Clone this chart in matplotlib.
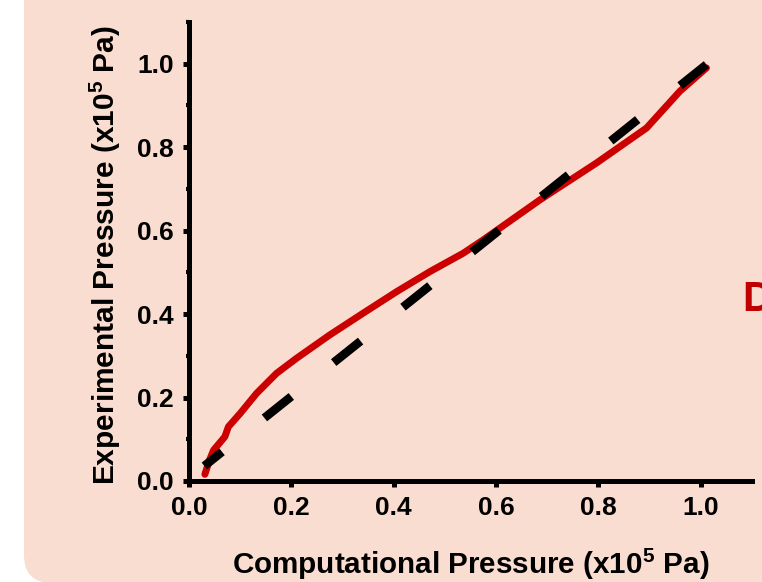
import matplotlib
matplotlib.use("Agg")
import matplotlib.pyplot as plt
from matplotlib.patches import FancyBboxPatch
from matplotlib.ticker import MultipleLocator

plt.rcParams['font.family'] = ['Liberation Sans', 'DejaVu Sans']
plt.rcParams['mathtext.fontset'] = 'custom'
plt.rcParams['mathtext.rm'] = 'Liberation Sans:bold'
plt.rcParams['mathtext.bf'] = 'Liberation Sans:bold'

# Data
comp_x = [0.031, 0.040, 0.048, 0.070, 0.077, 0.100, 0.132, 0.171, 0.210, 0.275,
          0.340, 0.406, 0.471, 0.536, 0.575, 0.686, 0.796, 0.894, 0.959, 1.011]
exp_y = [0.016, 0.050, 0.074, 0.106, 0.130, 0.162, 0.210, 0.258, 0.294, 0.350,
         0.402, 0.454, 0.502, 0.546, 0.578, 0.674, 0.762, 0.846, 0.934, 0.990]
ideal_x = [0.03, 1.011]
ideal_y = [0.036, 0.998]
xticks = [0.0, 0.2, 0.4, 0.6, 0.8, 1.0]
yticks = [0.0, 0.2, 0.4, 0.6, 0.8, 1.0]

fig = plt.figure(figsize=(7.62, 5.82), dpi=100)
fig.patch.set_facecolor('white')

bg = FancyBboxPatch((0.24, -0.01), 10, 10,
                    boxstyle="round,pad=0,rounding_size=0.28",
                    transform=fig.dpi_scale_trans, facecolor='#F8DDD0',
                    edgecolor='none', zorder=-5)
fig.patches.append(bg)

ax = fig.add_axes([189 / 762, 101 / 582, 563 / 762, 459 / 582])
ax.set_zorder(2)
ax.set_facecolor('none')
ax.plot(comp_x, exp_y, color='#CC0000', lw=5.0, solid_capstyle='round',
        solid_joinstyle='round', zorder=2)
ax.plot(ideal_x, ideal_y, color='black', lw=6.2, linestyle=(1.37, (4.0, 6.3)),
        dash_capstyle='butt', zorder=3)

ax.set_xlim(0, 1.1)
ax.set_ylim(0, 1.1)
ax.set_xticks(xticks)
ax.set_yticks(yticks)
ax.set_xticklabels([f"{t:.1f}" for t in xticks])
ax.set_yticklabels([f"{t:.1f}" for t in yticks])
ax.xaxis.set_minor_locator(MultipleLocator(0.1))
ax.yaxis.set_minor_locator(MultipleLocator(0.1))
for s in ['top', 'right']:
    ax.spines[s].set_visible(False)
for s in ['left', 'bottom']:
    ax.spines[s].set_linewidth(3.6)
ax.tick_params(which='major', length=4.5, width=3.6, labelsize=19, pad=6.5)
ax.tick_params(which='minor', length=2.5, width=3.0)
for lbl in ax.get_xticklabels() + ax.get_yticklabels():
    lbl.set_fontweight('bold')

ax.set_xlabel("Computational Pressure (x10$^{5}$ Pa)", fontsize=21.3,
              fontweight='bold')
ax.set_ylabel("Experimental Pressure (x10$^{5}$ Pa)", fontsize=21.5,
              fontweight='bold')
ax.xaxis.set_label_coords(0.5, -0.142)
ax.yaxis.set_label_coords(-0.117, 0.492)

fig.text(742 / 762, 1 - 300 / 582, "D", color='#C00000', fontsize=30,
         fontweight='bold', va='center', ha='left')

fig.savefig("out.png", dpi=100, facecolor=fig.get_facecolor())
